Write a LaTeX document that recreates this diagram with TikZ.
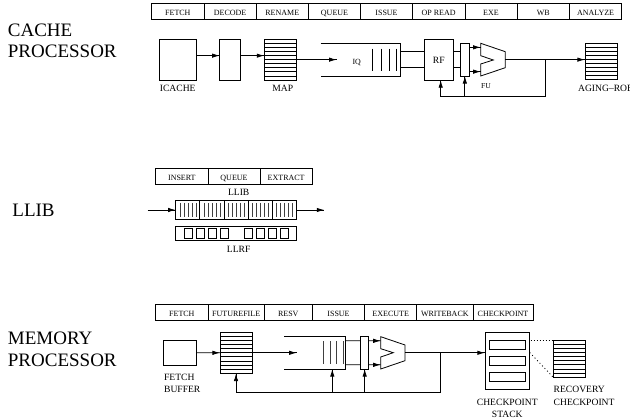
\documentclass[tikz,border=0pt]{standalone}
\usepackage{fontspec}
\setmainfont{Liberation Serif}
\usetikzlibrary{calc}
\usetikzlibrary{arrows.meta}
\usetikzlibrary{decorations.markings}
\tikzset{arr/.style = {decoration={markings,
                                  mark=at position 0.999
                                  with {\arrow{Latex[length=7.5pt,width=4.4pt]}}},
                      postaction={decorate}}}
\tikzset{box/.style = {draw, rectangle, inner sep = 0, outer sep = 0}}
\tikzset{stage/.style = {box, minimum height = 16pt, text height = 9.6pt, text depth = 1pt,
                         font = \fontsize{8}{9}\selectfont, anchor = north west}}
\tikzset{lbl/.style = {inner sep = 0, font = \fontsize{9.6}{11}\selectfont}}
\tikzset{title/.style = {inner sep = 0, anchor = base west, font = \fontsize{19}{21}\selectfont}}
\tikzset{bar/.style = {line width = 0.9pt, black!75}}
\tikzset{regs/.style = {path picture = {
  \foreach \k in {1,...,#1} {
    \draw ($(path picture bounding box.north west)!{\k/(#1+1)}!(path picture bounding box.south west)$)
       -- ($(path picture bounding box.north east)!{\k/(#1+1)}!(path picture bounding box.south east)$);
  }}}}
\tikzset{
  every picture/.style={
    every path/.style={line width=0.8pt},
  }
}
\begin{document}
\begin{tikzpicture}[x=1pt,y=-1pt]
  \useasboundingbox (0,0) rectangle (630,419);
  % cache processor
  \node[title] (cachea) at (7.5,37) {CACHE};
  \node[title] (cacheb) at (7.5,57.7) {PROCESSOR};
  \foreach \xa/\xb/\txt [count=\i] in {151.7/204/FETCH, 204/256.3/DECODE, 256.3/308.3/RENAME,
      308.3/360.7/QUEUE, 360.7/412.3/ISSUE, 412.3/465/OP READ, 465/517/EXE, 517/569.5/WB, 569.5/621.7/ANALYZE}
    \node[stage, minimum width={(\xb-\xa)*1pt}] (cs\i) at (\xa,3.7) {\txt};
  \node[box, anchor=north west, minimum width=36.7pt, minimum height=40.7pt] (icache) at (159.3,39.3) {};
  \node[box, anchor=north west, minimum width=20.6pt, minimum height=40.7pt] (decode) at (219.7,39.3) {};
  \node[box, regs=9, anchor=north west, minimum width=32pt, minimum height=40.7pt] (map) at (264.3,39.3) {};
  \node[lbl, anchor=base] (icachelbl) at (177.7,92) {ICACHE};
  \node[lbl, anchor=base] (maplbl) at (282.7,92) {MAP};
  \draw[arr] ([yshift=4pt]icache.east) -- ([yshift=4pt]decode.west);
  \draw[arr] ([yshift=4pt]decode.east) -- ([yshift=4pt]map.west);
  \coordinate (iqin) at (336.7,59.65);
  \coordinate (iqe) at (400.7,59.65);
  \draw[arr] (map.east) -- (iqin);
  \draw (320.7,43.3) -| (400.7,76) -- (320.7,76);
  \node[inner sep=0, font=\fontsize{7.9}{9}\selectfont, anchor=base] (iq) at (356.7,65) {IQ};
  \foreach \x in {372.7,381,389,396.7}
    \draw (\x,48.7) -- (\x,71);
  \node[box, anchor=north west, minimum width=28.3pt, minimum height=40.7pt] (rf) at (424.7,39.3) {};
  \node[lbl, anchor=base] (rflbl) at (438.85,64) {RF};
  \node[box, anchor=north west, minimum width=8.3pt, minimum height=32.7pt] (latch) at (460.7,43.3) {};
  \draw ([yshift=8pt]iqe) -- ([yshift=8pt]rf.west);
  \draw ([yshift=-8pt]iqe) -- ([yshift=-8pt]rf.west);
  \draw ([yshift=8pt]rf.east) -- ([yshift=8pt]latch.west);
  \draw ([yshift=-8pt]rf.east) -- ([yshift=-8pt]latch.west);
  \coordinate (fuin) at (480.7,59.65);
  \coordinate (fuout) at (505.3,59.65);
  \draw[arr] ([yshift=12.3pt]latch.east) -- ([yshift=12.3pt]fuin);
  \draw[arr] ([yshift=-12pt]latch.east) -- ([yshift=-12pt]fuin);
  \draw (480.7,43.3) -- (505.3,51.7) -- (505.3,67.7) -- (480.7,76) -- (480.7,64)
    -- (493.3,60) -- (480.7,55.7) -- cycle;
  \node[inner sep=0, font=\fontsize{7.6}{9}\selectfont, anchor=base] (fu) at (486,88.3) {FU};
  \node[box, regs=8, anchor=north west, minimum width=32.7pt, minimum height=36pt] (rob) at (585,43.3) {};
  \node[lbl, anchor=base west] (roblbl) at (577.7,91.7) {AGING--ROB};
  \draw[arr] (fuout) -- (rob.west |- fuout);
  \coordinate (fb) at (545.3,59.65);
  \coordinate (fblow) at (440.7,96);
  \draw[arr] (fb) -- (fb |- fblow) -- (fblow) -- (fblow |- rf.south);
  \draw[arr] (fblow -| latch.south) -- (latch.south);
  % llib
  \node[title] (llibt) at (12,216.7) {LLIB};
  \foreach \xa/\xb/\txt [count=\i] in {155.7/208/INSERT, 208/260/QUEUE, 260/312.3/EXTRACT}
    \node[stage, minimum width={(\xb-\xa)*1pt}, minimum height=15.7pt] (ls\i) at (\xa,168.3) {\txt};
  \node[lbl, anchor=base] (lliblbl) at (238.7,196) {LLIB};
  \foreach \i in {0,...,4} {
    \node[box, anchor=north west, minimum width=24.12pt, minimum height=18.6pt] (q\i) at (175.7+24.12*\i,200.7) {};
    \foreach \j in {0,...,4}
      \draw[bar] (180.3+24.12*\i+4*\j,203) -- (180.3+24.12*\i+4*\j,216.8);
  }
  \coordinate (llin) at (147.7,210);
  \coordinate (llout) at (324.3,210);
  \draw[arr] (llin) -- (q0.west);
  \draw[arr] (q4.east) -- (llout);
  \node[box, anchor=north west, minimum width=120.6pt, minimum height=14.3pt] (llrf) at (175.7,226) {};
  \foreach \x in {184,196,208,220,244,256,268,280}
    \node[box, anchor=north west, minimum width=8.3pt, minimum height=9.7pt] (rg\x) at (\x,228.3) {};
  \node[lbl, anchor=base] (llrflbl) at (238.7,252.7) {LLRF};
  % memory processor
  \node[title] (mema) at (7.5,345) {MEMORY};
  \node[title] (memb) at (7.5,366.7) {PROCESSOR};
  \foreach \xa/\xb/\txt [count=\i] in {155.7/208/FETCH, 208/264.3/FUTUREFILE, 264.3/312.3/RESV, 312.3/364.7/ISSUE,
      364.7/416.7/EXECUTE, 416.7/473/WRITEBACK, 473/533/CHECKPOINT}
    \node[stage, minimum width={(\xb-\xa)*1pt}] (ms\i) at (\xa,304.7) {\txt};
  \node[box, anchor=north west, minimum width=32.3pt, minimum height=24.3pt] (fbuf) at (163.7,340.7) {};
  \node[lbl, anchor=base west] (fbufa) at (163.7,381) {FETCH};
  \node[lbl, anchor=base west] (fbufb) at (163.7,393) {BUFFER};
  \node[box, regs=9, anchor=north west, minimum width=32.3pt, minimum height=41pt] (ff) at (220,332.3) {};
  \coordinate (mqin) at (296.7,352.8);
  \coordinate (mqe) at (345.3,352.8);
  \draw[arr] (fbuf.east) -- (ff.west);
  \draw[arr] (ff.east) -- (mqin);
  \draw (284.3,336.7) -| (345.3,369) -- (284.3,369);
  \foreach \x in {323.7,330.3,336.7,343}
    \draw[bar] (\x,341.3) -- (\x,364.3);
  \node[box, anchor=north west, minimum width=8pt, minimum height=32.3pt] (mlatch) at (360.7,336.7) {};
  \draw ([yshift=12pt]mqe) -- ([yshift=12pt]mlatch.west);
  \draw ([yshift=-12pt]mqe) -- ([yshift=-12pt]mlatch.west);
  \coordinate (mfuin) at (380.7,352.8);
  \coordinate (mfuout) at (405,352.8);
  \draw[arr] ([yshift=12pt]mlatch.east) -- ([yshift=12pt]mfuin);
  \draw[arr] ([yshift=-12pt]mlatch.east) -- ([yshift=-12pt]mfuin);
  \draw (380.7,336.7) -- (405,345) -- (405,360.7) -- (380.7,369) -- (380.7,357)
    -- (393.3,352.7) -- (380.7,348.7) -- cycle;
  \node[box, anchor=north west, minimum width=44.7pt, minimum height=57pt] (stack) at (485,332.3) {};
  \foreach \y/\i in {340.7/1,356.7/2,372.7/3}
    \node[box, anchor=north west, minimum width=36.7pt, minimum height=8.3pt] (ck\i) at (489,\y) {};
  \draw[arr] (mfuout) -- (stack.west |- mfuout);
  \node[box, regs=8, anchor=north west, minimum width=32.3pt, minimum height=36.3pt] (rec) at (553,340.7) {};
  \coordinate (dota) at (530.5,340.7);
  \coordinate (dotb) at (529.7,352.5);
  \draw[dash pattern=on 1pt off 2pt] (dota) -- (rec.north west);
  \draw[dash pattern=on 1pt off 2.6pt] (dotb) -- (rec.south west);
  \node[lbl, anchor=base] (stacka) at (507.3,405.3) {CHECKPOINT};
  \node[lbl, anchor=base] (stackb) at (507.3,417.3) {STACK};
  \node[lbl, anchor=base west] (reca) at (553.3,393) {RECOVERY};
  \node[lbl, anchor=base west] (recb) at (553.3,405.3) {CHECKPOINT};
  \coordinate (mfb) at (440.7,352.8);
  \coordinate (mfblow) at (236,392.7);
  \draw[arr] (mfb) -- (mfb |- mfblow) -- (mfblow) -- (mfblow |- ff.south);
  \coordinate (mbr) at (332.3,369);
  \draw[arr] (mbr |- mfblow) -- (mbr);
  \draw[arr] (mfblow -| mlatch.south) -- (mlatch.south);
\end{tikzpicture}
\end{document}
